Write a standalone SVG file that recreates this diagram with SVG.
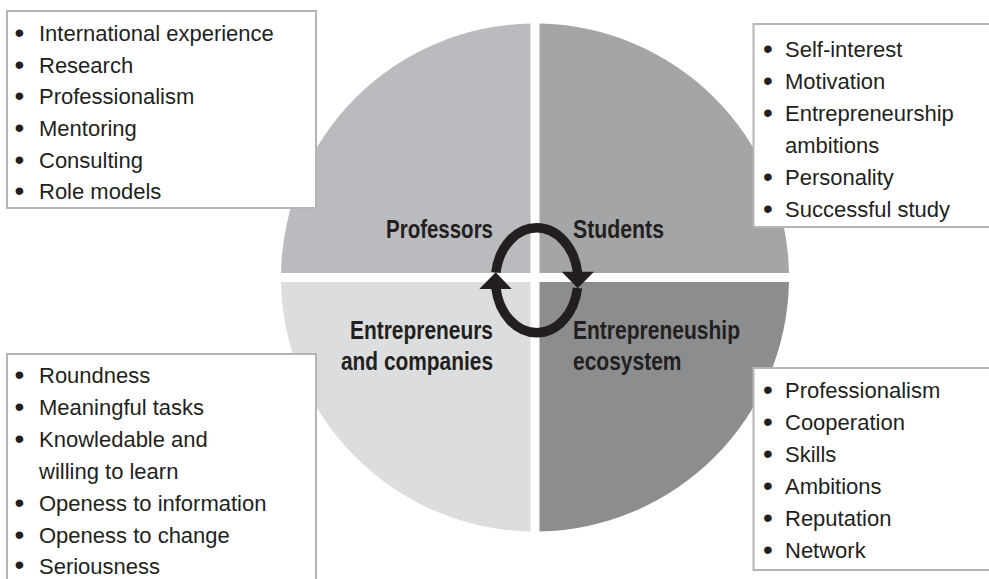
<svg xmlns="http://www.w3.org/2000/svg" width="989" height="579" viewBox="0 0 989 579">
<style>
.t{font-family:"Liberation Sans",Arial,sans-serif;font-size:22px;fill:#231f20}
.b{font-size:28px}
.h{font-family:"Liberation Sans",Arial,sans-serif;font-size:25px;font-weight:bold;fill:#231f20}
.box{fill:#ffffff;stroke:#b4b5b8;stroke-width:2}
.ring{fill:none;stroke:#231f20;stroke-width:9.5}
.head{fill:#231f20}
</style>
<rect width="989" height="579" fill="#ffffff"/>
<g id="circle">
<path id="q-professors" d="M530.5,273 V23.54 A254,254 0 0 0 281.04,273 Z" fill="#babbbe"/>
<path id="q-students" d="M539.5,273 V23.54 A254,254 0 0 1 788.96,273 Z" fill="#a4a5a7"/>
<path id="q-companies" d="M530.5,282 V531.46 A254,254 0 0 1 281.04,282 Z" fill="#dcdddf"/>
<path id="q-ecosystem" d="M539.5,282 V531.46 A254,254 0 0 0 788.96,282 Z" fill="#8c8d8f"/>
</g>
<g id="connectors">
<path class="ring" d="M495.9,272.5 A41.3,53 0 0 1 577.5,272.5"/>
<polygon class="head" points="561.7,271.7 594,271.7 577.7,288.3"/>
<path class="ring" d="M577.5,288 A41.3,53 0 0 1 495.9,288"/>
<polygon class="head" points="479.3,289 511.7,289 495.7,272.3"/>
</g>
<g id="label-professors"><text class="h" x="386" y="237.7" textLength="107" lengthAdjust="spacingAndGlyphs">Professors</text></g>
<g id="label-students"><text class="h" x="573" y="237.7" textLength="91" lengthAdjust="spacingAndGlyphs">Students</text></g>
<g id="label-companies"><text class="h" x="350" y="339" textLength="143" lengthAdjust="spacingAndGlyphs">Entrepreneurs</text><text class="h" x="341" y="370" textLength="152" lengthAdjust="spacingAndGlyphs">and companies</text></g>
<g id="label-ecosystem"><text class="h" x="573" y="339" textLength="167" lengthAdjust="spacingAndGlyphs">Entrepreneuship</text><text class="h" x="573" y="370" textLength="108.5" lengthAdjust="spacingAndGlyphs">ecosystem</text></g>
<g id="box-professors">
<rect class="box" x="7" y="11" width="309" height="197"/>
<text class="t" y="40.8"><tspan class="b" x="14.5" dy="1">•</tspan><tspan x="39" dy="-1">International experience</tspan></text>
<text class="t" y="72.5"><tspan class="b" x="14.5" dy="1">•</tspan><tspan x="39" dy="-1">Research</tspan></text>
<text class="t" y="104.2"><tspan class="b" x="14.5" dy="1">•</tspan><tspan x="39" dy="-1">Professionalism</tspan></text>
<text class="t" y="135.9"><tspan class="b" x="14.5" dy="1">•</tspan><tspan x="39" dy="-1">Mentoring</tspan></text>
<text class="t" y="167.6"><tspan class="b" x="14.5" dy="1">•</tspan><tspan x="39" dy="-1">Consulting</tspan></text>
<text class="t" y="199.3"><tspan class="b" x="14.5" dy="1">•</tspan><tspan x="39" dy="-1">Role models</tspan></text>
</g>
<g id="box-students">
<rect class="box" x="753.5" y="24" width="250" height="203"/>
<text class="t" y="56.7"><tspan class="b" x="763" dy="1">•</tspan><tspan x="785" dy="-1">Self-interest</tspan></text>
<text class="t" y="88.7"><tspan class="b" x="763" dy="1">•</tspan><tspan x="785" dy="-1">Motivation</tspan></text>
<text class="t" y="120.6"><tspan class="b" x="763" dy="1">•</tspan><tspan x="785" dy="-1">Entrepreneurship</tspan></text>
<text class="t" x="785" y="152.5">ambitions</text>
<text class="t" y="184.5"><tspan class="b" x="763" dy="1">•</tspan><tspan x="785" dy="-1">Personality</tspan></text>
<text class="t" y="216.5"><tspan class="b" x="763" dy="1">•</tspan><tspan x="785" dy="-1">Successful study</tspan></text>
</g>
<g id="box-companies">
<rect class="box" x="7" y="354" width="309" height="240"/>
<text class="t" y="383.3"><tspan class="b" x="14.5" dy="1">•</tspan><tspan x="39" dy="-1">Roundness</tspan></text>
<text class="t" y="415.2"><tspan class="b" x="14.5" dy="1">•</tspan><tspan x="39" dy="-1">Meaningful tasks</tspan></text>
<text class="t" y="447.1"><tspan class="b" x="14.5" dy="1">•</tspan><tspan x="39" dy="-1">Knowledable and</tspan></text>
<text class="t" x="39" y="479">willing to learn</text>
<text class="t" y="510.9"><tspan class="b" x="14.5" dy="1">•</tspan><tspan x="39" dy="-1">Openess to information</tspan></text>
<text class="t" y="542.8"><tspan class="b" x="14.5" dy="1">•</tspan><tspan x="39" dy="-1">Openess to change</tspan></text>
<text class="t" y="574"><tspan class="b" x="14.5">•</tspan><tspan x="39">Seriousness</tspan></text>
</g>
<g id="box-ecosystem">
<rect class="box" x="753.5" y="368" width="250" height="202"/>
<text class="t" y="398.3"><tspan class="b" x="763" dy="1">•</tspan><tspan x="785" dy="-1">Professionalism</tspan></text>
<text class="t" y="430.3"><tspan class="b" x="763" dy="1">•</tspan><tspan x="785" dy="-1">Cooperation</tspan></text>
<text class="t" y="462.3"><tspan class="b" x="763" dy="1">•</tspan><tspan x="785" dy="-1">Skills</tspan></text>
<text class="t" y="494.3"><tspan class="b" x="763" dy="1">•</tspan><tspan x="785" dy="-1">Ambitions</tspan></text>
<text class="t" y="526.3"><tspan class="b" x="763" dy="1">•</tspan><tspan x="785" dy="-1">Reputation</tspan></text>
<text class="t" y="558.3"><tspan class="b" x="763" dy="1">•</tspan><tspan x="785" dy="-1">Network</tspan></text>
</g>
</svg>
